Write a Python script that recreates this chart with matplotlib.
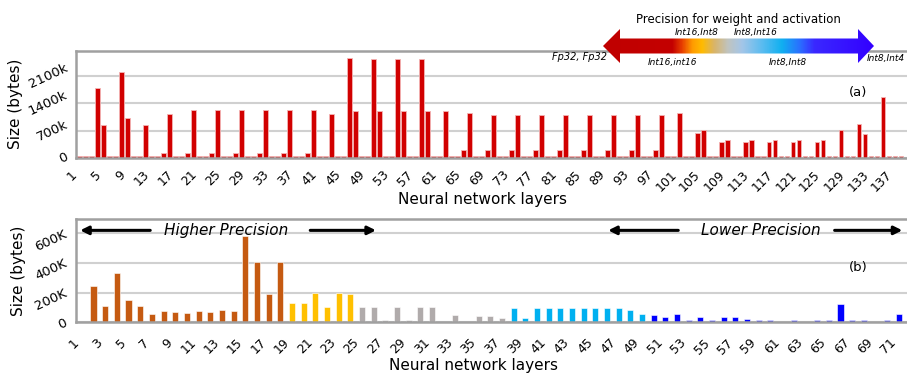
import numpy as np
import matplotlib
matplotlib.use('Agg')
import matplotlib.pyplot as plt
from matplotlib.patches import Polygon
from matplotlib.colors import LinearSegmentedColormap

# ---------------- data ----------------
# (a) sizes in thousands of bytes, layers 1..138
top_sizes_k = [
    55, 45, 45, 1800, 840, 45, 45, 2205, 1032, 45,
    45, 840, 45, 45, 114, 1120, 45, 45, 131, 1225,
    45, 45, 131, 1225, 45, 45, 131, 1225, 45, 45,
    131, 1225, 45, 45, 131, 1225, 45, 45, 131, 1225,
    45, 45, 1120, 45, 45, 2572, 1207, 45, 45, 2537,
    1190, 45, 45, 2537, 1190, 45, 45, 2537, 1190, 45,
    45, 1207, 45, 45, 210, 1146, 45, 45, 200, 1102,
    45, 45, 200, 1102, 45, 45, 200, 1102, 45, 45,
    200, 1102, 45, 45, 200, 1102, 45, 45, 200, 1102,
    45, 45, 200, 1102, 45, 45, 200, 1102, 45, 45,
    1146, 45, 45, 630, 717, 45, 45, 411, 464, 45,
    45, 411, 464, 45, 45, 411, 464, 45, 45, 411,
    464, 45, 45, 411, 464, 45, 45, 717, 45, 45,
    857, 621, 45, 45, 1575, 45, 45, 45,
]
top_layers = list(range(1, len(top_sizes_k) + 1))
top_xticks = list(range(1, 138, 4))
top_yticks = [0, 700, 1400, 2100]
top_ytick_labels = ['0', '700k', '1400k', '2100k']

# (b) sizes in thousands of bytes, layers 1..71
bottom_sizes_k = [
    0, 245, 112, 333, 153, 112, 58, 74, 72, 63,
    76, 67, 81, 76, 580, 409, 193, 409, 133, 133,
    200, 103, 200, 193, 103, 103, 13, 103, 13, 103,
    103, 2, 48, 2, 43, 44, 26, 97, 26, 97,
    97, 97, 97, 97, 97, 97, 97, 83, 58, 52,
    36, 58, 16, 36, 16, 38, 36, 25, 16, 16,
    5, 16, 3, 16, 16, 126, 16, 16, 5, 16,
    58,
]
bottom_layers = list(range(1, len(bottom_sizes_k) + 1))
bottom_xticks = list(range(1, 72, 2))
bottom_yticks = [0, 200, 400, 600]
bottom_ytick_labels = ['0', '200K', '400K', '600K']

group_names = ['Int16,Int16', 'Int16,Int8', 'Int8,Int16', 'Int8,Int8', 'Int8,Int4']
group_counts = [18, 6, 13, 12, 22]
group_colors = ['#c55a11', '#ffc000', '#b0abab', '#00b0f0', '#0000ff']

# ---------------- figure ----------------
W, H = 907, 373
fig = plt.figure(figsize=(W / 100, H / 100), dpi=100)
ax1 = fig.add_axes([76 / W, 1 - 157.7 / H, (W - 76) / W, 107 / H])
ax2 = fig.add_axes([76 / W, 1 - 322.3 / H, (W - 76) / W, 103.8 / H])

for ax in (ax1, ax2):
    ax.set_axisbelow(True)
    ax.yaxis.grid(True, color='#d0d0d0', linewidth=1.5)
    ax.xaxis.grid(False)
    for s in ('left', 'bottom', 'top'):
        ax.spines[s].set_color('#a0a0a0')
        ax.spines[s].set_linewidth(1.8)
    ax.spines['right'].set_visible(False)
    ax.tick_params(length=0)

# (a)
ax1.bar(top_layers, top_sizes_k, width=0.8, color='#d10000',
        edgecolor='#f3b4b4', linewidth=0.6, zorder=1)
ax1.set_xlim(0.4, 139.0)
ax1.set_ylim(0, 2755)
ax1.set_xticks(top_xticks)
ax1.set_xticklabels([str(t) for t in top_xticks], rotation=45, ha='right', fontsize=9)
ax1.tick_params(axis='x', pad=7.5)
ax1.set_yticks(top_yticks)
ax1.set_yticklabels(top_ytick_labels, rotation=25, ha='right', va='center', fontsize=9.5)
ax1.tick_params(axis='y', pad=4.5)
ax1.set_xlabel('Neural network layers', fontsize=11)
ax1.xaxis.set_label_coords(0.489, -0.386)
ax1.xaxis.label.set_va('center')
ax1.set_ylabel('Size (bytes)', fontsize=11)
ax1.yaxis.set_label_coords(-0.0728, 0.5)
ax1.yaxis.label.set_va('center')
ax1.text(130.8, 1690, '(a)', fontsize=9.5, ha='center', va='center')

# (b)
bar_colors = []
for c, n in zip(group_colors, group_counts):
    bar_colors += [c] * n
ax2.bar(bottom_layers, bottom_sizes_k, width=0.52, color=bar_colors,
        edgecolor='#ffffff', linewidth=0.4, zorder=1)
ax2.set_xlim(0.5, 71.7)
ax2.set_ylim(0, 700)
ax2.set_xticks(bottom_xticks)
ax2.set_xticklabels([str(t) for t in bottom_xticks], rotation=45, ha='right', fontsize=9)
ax2.tick_params(axis='x', pad=10)
ax2.set_yticks(bottom_yticks)
ax2.set_yticklabels(bottom_ytick_labels, rotation=25, ha='right', va='center', fontsize=9.5)
for lbl in ax2.get_yticklabels():
    lbl.set_rotation_mode('anchor')
ax2.tick_params(axis='y', pad=7)
ax2.set_xlabel('Neural network layers', fontsize=11)
ax2.xaxis.set_label_coords(0.478, -0.421)
ax2.xaxis.label.set_va('center')
ax2.set_ylabel('Size (bytes)', fontsize=11)
ax2.yaxis.set_label_coords(-0.0686, 0.5)
ax2.yaxis.label.set_va('center')
ax2.text(67.5, 368, '(b)', fontsize=9.5, ha='center', va='center')

arrow_kw = dict(arrowstyle='-|>', color='black', lw=2.2, mutation_scale=12,
                shrinkA=0, shrinkB=0)
ax2.annotate('', xy=(0.86, 620), xytext=(6.86, 620), arrowprops=arrow_kw)
ax2.annotate('', xy=(26.2, 620), xytext=(20.57, 620), arrowprops=arrow_kw)
ax2.text(13.37, 620, 'Higher Precision', fontsize=11, style='italic', ha='center', va='center')
ax2.annotate('', xy=(46.1, 620), xytext=(52.1, 620), arrowprops=arrow_kw)
ax2.annotate('', xy=(71.3, 620), xytext=(65.5, 620), arrowprops=arrow_kw)
ax2.text(59.2, 620, 'Lower Precision', fontsize=11, style='italic', ha='center', va='center')

# ---------------- precision gradient arrow (overlay) ----------------
ov = fig.add_axes([0, 0, 1, 1], zorder=10)
ov.set_xlim(0, W)
ov.set_ylim(H, 0)
ov.axis('off')
ov.patch.set_alpha(0)

x0, x1 = 603, 874
verts = [(603, 46), (620, 29), (620, 38.5), (858, 38.5), (858, 29), (874, 46),
         (858, 63), (858, 53.5), (620, 53.5), (620, 63)]
poly = Polygon(verts, closed=True, facecolor='none', edgecolor='none')
ov.add_patch(poly)
stops = [(603, '#c00000'), (672, '#c40000'), (682, '#e84000'), (692, '#ff9a00'),
         (702, '#ffbb00'), (714, '#d9b468'), (728, '#c0c4c0'), (742, '#a4c6e8'),
         (762, '#5cbcf0'), (782, '#10b0f0'), (800, '#2a70ff'), (815, '#3a28ff'),
         (874, '#3300ff')]
cmap = LinearSegmentedColormap.from_list('prec', [((x - x0) / (x1 - x0), c) for x, c in stops])
grad = np.linspace(0, 1, 600).reshape(1, -1)
im = ov.imshow(grad, cmap=cmap, extent=[x0, x1, 63, 29], aspect='auto',
               interpolation='bilinear')
im.set_clip_path(poly)
ov.set_xlim(0, W)
ov.set_ylim(H, 0)

ov.text(738, 19, 'Precision for weight and activation', fontsize=8.5, ha='center', va='center')
ov.text(697, 33, 'Int16,Int8', fontsize=6.5, style='italic', ha='center', va='center')
ov.text(756, 33, 'Int8,Int16', fontsize=6.5, style='italic', ha='center', va='center')
ov.text(672, 62, 'Int16,int16', fontsize=6.5, style='italic', ha='center', va='center')
ov.text(788, 62, 'Int8,Int8', fontsize=6.5, style='italic', ha='center', va='center')
ov.text(886, 58.5, 'Int8,Int4', fontsize=6.5, style='italic', ha='center', va='center')
ov.text(580, 57, 'Fp32, Fp32', fontsize=7, style='italic', ha='center', va='center')

fig.savefig('out.png', dpi=100)
